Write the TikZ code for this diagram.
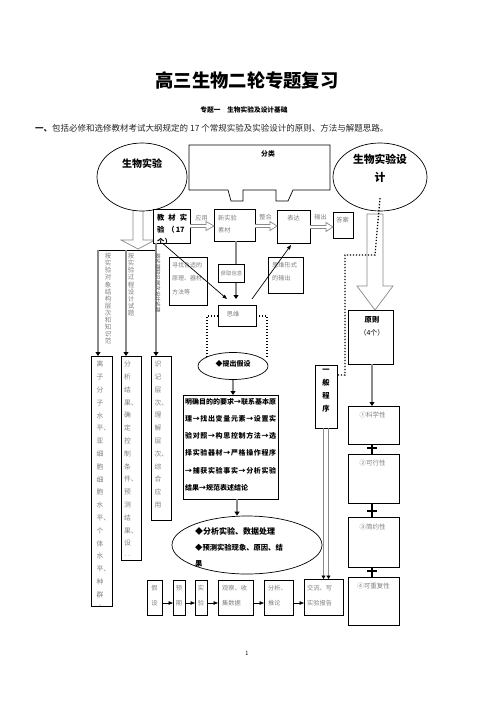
\documentclass[tikz,border=0pt]{standalone}
\usepackage{fontspec}
\setmainfont{Noto Sans CJK SC}
\usetikzlibrary{arrows.meta,shapes.geometric,calc}
\XeTeXlinebreaklocale "zh"
\XeTeXlinebreakskip=0pt plus 3pt
\definecolor{gline}{HTML}{8A8A8A}
\definecolor{gtext}{HTML}{808080}
\begin{document}
\begin{tikzpicture}[x=1pt,y=-1pt,
  box/.style={draw, line width=0.7pt, fill=white, inner sep=0pt, outer sep=0pt, anchor=north west},
  gt/.style={font=\fontsize{6.2}{13}\selectfont, text=gtext, inner sep=0pt},
  bt/.style={font=\bfseries\fontsize{7.3}{12}\selectfont, inner sep=0pt},
  garrow/.style={draw=gline, line width=1.8pt, -{Triangle[length=4pt,width=5pt,color=black]}},
  karrow/.style={draw=black, line width=0.7pt, -{Triangle[length=4.5pt,width=3.5pt]}},
  hollow/.style={draw=gline, line width=0.7pt, fill=white, line join=miter},
  dots/.style={draw=black, line width=1.3pt, dash pattern=on 1.3pt off 1.7pt},
  plusbar/.style={draw=black, line width=1.4pt},
  vcol/.style={font=\fontsize{6.8}{12.8}\selectfont, text=gtext, inner sep=0pt, align=center, anchor=north},
]
\useasboundingbox[fill=white] (0,0) rectangle (496,702);

% ---------- heading ----------
\node[font=\bfseries\fontsize{18.3}{20}\selectfont, inner sep=0pt] (title) at (247,81) {高三生物二轮专题复习};
\node[font=\bfseries\fontsize{6.7}{8}\selectfont, inner sep=0pt] (sub) at (244,110) {专题一　生物实验及设计基础};
\node[anchor=west, font=\fontsize{8.5}{10}\selectfont, inner sep=0pt, text=black!85] (intro) at (35,128) {{\bfseries 一、}包括必修和选修教材考试大纲规定的 17 个常规实验及实验设计的原则、方法与解题思路。};

% ---------- left big hollow arrow + ellipse ----------
\draw[hollow] (133,200) -- (133,240) -- (121,240) -- (138,249) -- (155,240) -- (143,240) -- (143,200);
\node[draw, ellipse, line width=0.7pt, fill=white, minimum width=90, minimum height=68, inner sep=0pt] (ellL) at (142,177) {};
\node[font=\bfseries\fontsize{10}{12}\selectfont, inner sep=0pt] (ellLt) at (142,164) {生物实验};

% ---------- callout ----------
\draw[line width=0.7pt, fill=white] (189,145) -- (330,145) -- (330,190) -- (293,190) -- (288,201) -- (276,201) -- (276,190) -- (243,190) -- (243,201) -- (231,201) -- (228,190) -- (189,190) -- cycle;
\node[font=\bfseries\fontsize{6.8}{8}\selectfont, inner sep=0pt] (fl) at (268,154) {分类};

% ---------- right ellipse, hollow arrow ----------
\node[draw, ellipse, line width=0.7pt, fill=white, minimum width=94, minimum height=68, inner sep=0pt] (ellR) at (380,177) {};
\node[font=\bfseries\fontsize{10.8}{18}\selectfont, align=center, inner sep=0pt] (ellRt) at (380,168) {生物实验设\\计};
\draw[hollow] (367,214) -- (383,214) -- (383,286) -- (393,286) -- (375,310) -- (357,286) -- (367,286) -- cycle;

% ---------- top row ----------
\node[box, minimum width=37, minimum height=34] (jc) at (153,209) {};
\begin{scope}
\clip (153.5,209.5) rectangle (189.5,242.5);
\node[bt, anchor=north west, align=left, font=\bfseries\fontsize{7.3}{12}\selectfont] (jct) at (157,214) {教\hspace{4pt}材\hspace{4pt}实\\验\hspace{3pt}（\hspace{1pt}17\\个）};
\end{scope}
\node[box, minimum width=41, minimum height=32] (xsc) at (214,209) {};
\node[gt, anchor=north west, align=left, font=\fontsize{6.2}{11.5}\selectfont] (xsct) at (218,215.5) {新实验\\素材};
\node[box, minimum width=33, minimum height=33] (bd) at (277,210) {};
\node[gt] (bdt) at (293.5,218) {表达};
\node[box, minimum width=20, minimum height=26] (da) at (333,212) {};
\node[gt] (dat) at (342.5,220) {答案};

\draw[hollow] (190,224.5) -- (206,224.5) -- (206,221.5) -- (214,226) -- (206,230.5) -- (206,227.5) -- (190,227.5);
\draw[hollow] (255,224.5) -- (270,224.5) -- (270,221.5) -- (277,226) -- (270,230.5) -- (270,227.5) -- (255,227.5);
\draw[hollow] (310,225.5) -- (326,225.5) -- (326,222.5) -- (333,227) -- (326,231.5) -- (326,228.5) -- (310,228.5);
\node[gt] (lyy) at (201.5,218) {应用};
\node[gt] (lzh) at (265.5,217) {整合};
\node[gt] (lsc) at (320.5,217) {输出};

% ---------- middle: thinking ----------
\draw[dots] (207,357) -- (207,316) -- (267,316) -- (267,357);
\node[box, minimum width=38, minimum height=21] (sw) at (218,305) {};
\node[gt] (swt) at (233,314) {思维};
\draw[garrow] ($(xsc.south)+(1.5,0)$) -- ($(sw.north)+(-1,-6)$);
\node[box, minimum width=38, minimum height=48] (xz) at (169,257) {};
\node[gt, anchor=north west, align=left, font=\fontsize{6}{13.5}\selectfont] (xzt) at (172,262) {寻找合适的\\原理、器材、\\方法等};
\node[box, minimum width=26, minimum height=18] (hq) at (218,264) {};
\node[gt, font=\fontsize{5.4}{6}\selectfont] (hqt) at (231.5,273) {获取信息};
\node[box, minimum width=35, minimum height=36] (swx) at (268,257) {};
\node[gt, anchor=north west, align=left, font=\fontsize{6.2}{13.5}\selectfont] (swxt) at (272,262) {思维形式\\的输出};
\draw[karrow] ($(jc.south west)!0.25!(jc.south east)$) -- ($(sw.north)+(-10,-6)$);
\draw[karrow] ($(sw.north)+(15,-6)$) -- ($(bd.south)+(-2.5,2)$);

% ---------- three columns ----------
\coordinate (br1) at (98,250);
\coordinate (br2) at (126,250);
\coordinate (br3) at (156,250);
\draw[black, line width=0.7pt] (br1) -- (br3);
\node[box, minimum width=21, minimum height=250] (bA) at (91,356) {};
\node[box, minimum width=20, minimum height=204] (bB) at (121,356) {};
\node[box, minimum width=20, minimum height=164] (bC) at (151,356) {};
\draw[garrow] (br1) -- (bA.north -| br1);
\draw[garrow] (br2) -- (bB.north -| br2);
\draw[garrow] (jc.south -| br3) -- (bC.north -| br3);
\node[vcol, font=\fontsize{6.5}{7.1}\selectfont] (c1) at (108,253) {按\\实\\验\\对\\象\\结\\构\\层\\次\\和\\知\\识\\范};
\node[vcol, font=\fontsize{6.5}{7.1}\selectfont] (c2) at (131,253) {按\\实\\验\\过\\程\\设\\计\\试\\题};
\node[gt, rotate=-90, font=\fontsize{5.4}{6}\selectfont, text=black!70] (c3) at (158,283) {按试题知识层次设计试题};

\begin{scope}
\clip (91.5,356.5) rectangle (111.5,605.5);
\node[vcol] (bAt) at (100,361) {离\\子\\分\\子\\水\\平\rlap{、}\\亚\\细\\胞\\细\\胞\\水\\平\rlap{、}\\个\\体\\水\\平\rlap{、}\\种\\群\\水\\平};
\end{scope}
\node[vcol] (bBt) at (127.5,361) {分\\析\\结\\果\rlap{、}\\确\\定\\控\\制\\条\\件\rlap{、}\\预\\测\\结\\果\rlap{、}\\设\\‥};
\node[vcol] (bCt) at (158,361) {识\\记\\层\\次\rlap{、}\\理\\解\\层\\次\rlap{、}\\综\\合\\应\\用};

% ---------- hypothesis and main box ----------
\node[draw, ellipse, line width=0.7pt, fill=white, minimum width=70, minimum height=27, inner sep=0pt] (tc) at (233,366) {};
\node[font=\bfseries\fontsize{7}{8}\selectfont, inner sep=0pt] (tct) at (233,364) {◆提出假设};
\node[box, minimum width=95, minimum height=104] (mq) at (183,395) {};
\node[anchor=north west, inner sep=0pt, text width=91pt, align=justify, font=\bfseries\fontsize{7}{17.2}\selectfont] (mqt) at (185,398) {明确目的的要求→联系基本原\linebreak 理→找出变量元素→设置实\linebreak 验对照→构思控制方法→选\linebreak 择实验器材→严格操作程序\linebreak →捕获实验事实→分析实验\linebreak 结果→规范表述结论};
\draw[garrow] (tc.south) -- (mq.north -| tc.south);

\node[draw, ellipse, line width=0.7pt, fill=white, minimum width=150, minimum height=58, inner sep=0pt] (fx) at (247,545) {};
\node[anchor=north west, inner sep=0pt, align=left, font=\bfseries\fontsize{7.3}{16}\selectfont] (fxt) at (195,527) {{\fontsize{8}{16}\selectfont ◆分析实验、数据处理}\\◆预测实验现象、原因、结\\果};
\draw[garrow] ($(mq.south)+(6.5,0)$) -- (fx.north -| 237,0);

% ---------- general procedure ----------
\node[box, minimum width=22, minimum height=63] (yb) at (315,365) {};
\node[font=\bfseries\fontsize{7.3}{13}\selectfont, align=center, inner sep=0pt, anchor=north] (ybt) at (326,369) {一\\般\\程\\序};
\draw[dots] (ellR.center |- 0,198) -- (375,255) -- (345,255) -- (345,375) -- (yb.east |- 0,375);

% ---------- principles ----------
\node[box, minimum width=45, minimum height=54] (yz) at (348,310) {};
\node[font=\bfseries\fontsize{7.3}{13}\selectfont, inner sep=0pt] (yzt1) at (372,320) {原则};
\node[font=\fontsize{7}{13}\selectfont, inner sep=0pt] (yzt2) at (372,333) {（4个）};
\node[box, minimum width=51, minimum height=38] (p1) at (348,406) {};
\node[box, minimum width=51, minimum height=49] (p2) at (348,454) {};
\node[box, minimum width=51, minimum height=50] (p3) at (348,517) {};
\node[box, minimum width=51, minimum height=48] (p4) at (348,577) {};
\node[gt, font=\fontsize{6.5}{8}\selectfont] (p1t) at (372.5,415) {①科学性};
\node[gt, font=\fontsize{6.5}{8}\selectfont] (p2t) at (372.5,463) {②可行性};
\node[gt, font=\fontsize{6.5}{8}\selectfont] (p3t) at (372.5,527) {③简约性};
\node[gt, font=\fontsize{6.5}{8}\selectfont] (p4t) at (373.5,586) {④可重复性};
\draw[garrow] (yz.south -| 372,0) -- (p1.north -| 372,0);
\draw[plusbar] (p1.south -| 372,0) -- (p2.north -| 372,0) (367,448) -- (377,448);
\draw[plusbar] (p2.south -| 372,0) -- (p3.north -| 372,0) (367,511) -- (377,511);
\draw[plusbar] (p3.south -| 372,0) -- (p4.north -| 372,0) (367,571) -- (377,571);

% ---------- bottom row ----------
\node[box, minimum width=15, minimum height=35] (s1) at (147,580) {};
\node[box, minimum width=12, minimum height=35] (s2) at (173,580) {};
\node[box, minimum width=12, minimum height=35] (s3) at (195,580) {};
\node[box, minimum width=35, minimum height=35] (s4) at (218,580) {};
\node[box, minimum width=29, minimum height=35] (s5) at (264,580) {};
\node[box, minimum width=39, minimum height=36] (s6) at (304,579) {};
\node[gt, align=center, anchor=north, font=\fontsize{6.2}{15}\selectfont] (s1t) at (154.5,585) {假\\设};
\node[gt, align=center, anchor=north, font=\fontsize{6.2}{15}\selectfont] (s2t) at (179,585) {预\\期};
\node[gt, align=center, anchor=north, font=\fontsize{6.2}{15}\selectfont] (s3t) at (201,585) {实\\验};
\node[gt, align=left, anchor=north west, font=\fontsize{6.2}{15}\selectfont] (s4t) at (222,585) {观察、收\\集数据};
\node[gt, align=left, anchor=north west, font=\fontsize{6.2}{15}\selectfont] (s5t) at (268,585) {分析、\\推论};
\node[gt, align=left, anchor=north west, font=\fontsize{6.2}{15}\selectfont] (s6t) at (307,585) {交流、写\\实验报告};
\draw[karrow] (s1.east |- 0,603) -- (s2.west |- 0,603);
\draw[karrow] (s2.east |- 0,603) -- (s3.west |- 0,603);
\draw[karrow] (s3.east |- 0,603) -- (s4.west |- 0,603);
\draw[karrow] (s4.east |- 0,603) -- (s5.west |- 0,603);
\draw[karrow] (s5.east |- 0,603) -- (s6.west |- 0,603);
\draw[draw=gline, line width=1.6pt, -{Triangle[length=3.5pt,width=4pt,color=black]}] (yb.south -| 323.5,0) -- (s6.north -| 323.5,0);
\draw[draw=gline, line width=1.6pt, -{Triangle[length=3.5pt,width=4pt,color=black]}] (yb.south -| 328.5,0) -- (s6.north -| 328.5,0);

% page number
\node[font=\fontsize{5.5}{6}\selectfont, inner sep=0pt] (pg) at (247,654) {1};
\end{tikzpicture}
\end{document}
